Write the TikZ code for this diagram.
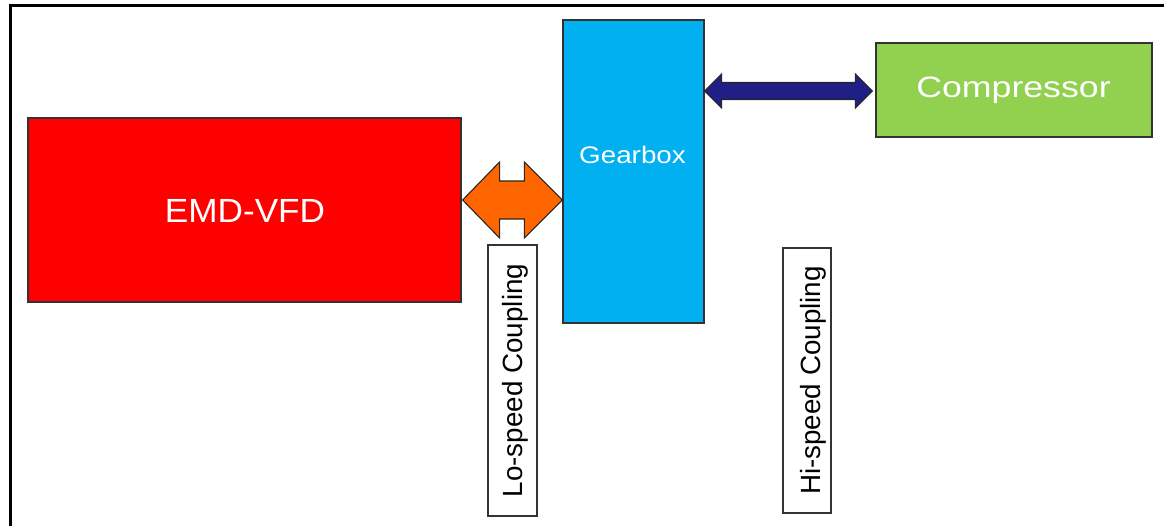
\documentclass[tikz,border=0pt]{standalone}
\usepackage{fontspec}
\setmainfont{Liberation Sans}
\usetikzlibrary{calc}
\definecolor{vfdred}{HTML}{FF0000}
\definecolor{gbcyan}{HTML}{00B0F0}
\definecolor{cpgreen}{HTML}{92D050}
\definecolor{lorange}{HTML}{FF6600}
\definecolor{hnavy}{HTML}{1F1F86}
\definecolor{edge}{HTML}{333333}
\tikzset{
  block/.style={draw=edge, line width=1.2pt, inner sep=0pt},
  label box/.style={draw=black!80, line width=1.1pt, fill=white, inner sep=0pt},
  label text/.style={rotate=90, anchor=base, inner sep=0pt, font=\fontsize{27.8}{30}\selectfont},
  white text/.style={text=white, anchor=base, inner sep=0pt},
  blockarrow/.style={draw=black!85, line width=1.1pt, line join=miter},
}
\begin{document}
\begin{tikzpicture}[x=1pt,y=-1pt]
\useasboundingbox (0,0) rectangle (1164,525);
% frame
\draw[line width=2.6pt] (10.5,530) -- (10.5,5.5) -- (1170,5.5);
% blocks
\node[block, fill=vfdred, minimum width=433pt, minimum height=184pt] (vfd) at (244.5,210) {};
\node[white text, font=\fontsize{33.5}{36}\selectfont, xscale=1.05] (vfdt) at (245,222) {EMD-VFD};
\node[block, fill=gbcyan, minimum width=141pt, minimum height=303pt] (gb) at (633.5,171.5) {};
\node[white text, font=\fontsize{24}{28}\selectfont, xscale=1.16] (gbt) at (632.5,163) {Gearbox};
\node[block, fill=cpgreen, minimum width=276pt, minimum height=94pt] (cp) at (1014,90) {};
\node[white text, font=\fontsize{29.5}{32}\selectfont, xscale=1.21] (cpt) at (1013.5,97.5) {Compressor};
% couplings
\node[label box, minimum width=49pt, minimum height=271pt] (lo) at (512.5,380.5) {};
\node[label text] (lot) at (522,380.5) {Lo-speed Coupling};
\node[label box, minimum width=48pt, minimum height=265pt] (hi) at (807,380.5) {};
\node[label text] (hit) at (820,380.5) {Hi-speed Coupling};
% lo-speed block arrow
\coordinate (la) at (vfd.east |- 0,200);
\coordinate (ra) at (gb.west |- 0,200);
\draw[blockarrow, fill=lorange]
  ($(la)+(1,0)$) -- ($(la)+(38,-38)$) -- ($(la)+(38,-19)$) -- ($(ra)+(-38,-19)$) -- ($(ra)+(-38,-38)$)
  -- (ra) -- ($(ra)+(-38,38)$) -- ($(ra)+(-38,19)$) -- ($(la)+(38,19)$) -- ($(la)+(38,38)$) -- cycle;
% hi-speed block arrow
\coordinate (lb) at (gb.east |- 0,91);
\coordinate (rb) at ($(cp.west |- 0,91)+(-3,0)$);
\draw[blockarrow, fill=hnavy]
  (lb) -- ($(lb)+(17,-17)$) -- ($(lb)+(17,-8.5)$) -- ($(rb)+(-17,-8.5)$) -- ($(rb)+(-17,-17)$)
  -- (rb) -- ($(rb)+(-17,17)$) -- ($(rb)+(-17,8.5)$) -- ($(lb)+(17,8.5)$) -- ($(lb)+(17,17)$) -- cycle;
\end{tikzpicture}
\end{document}
